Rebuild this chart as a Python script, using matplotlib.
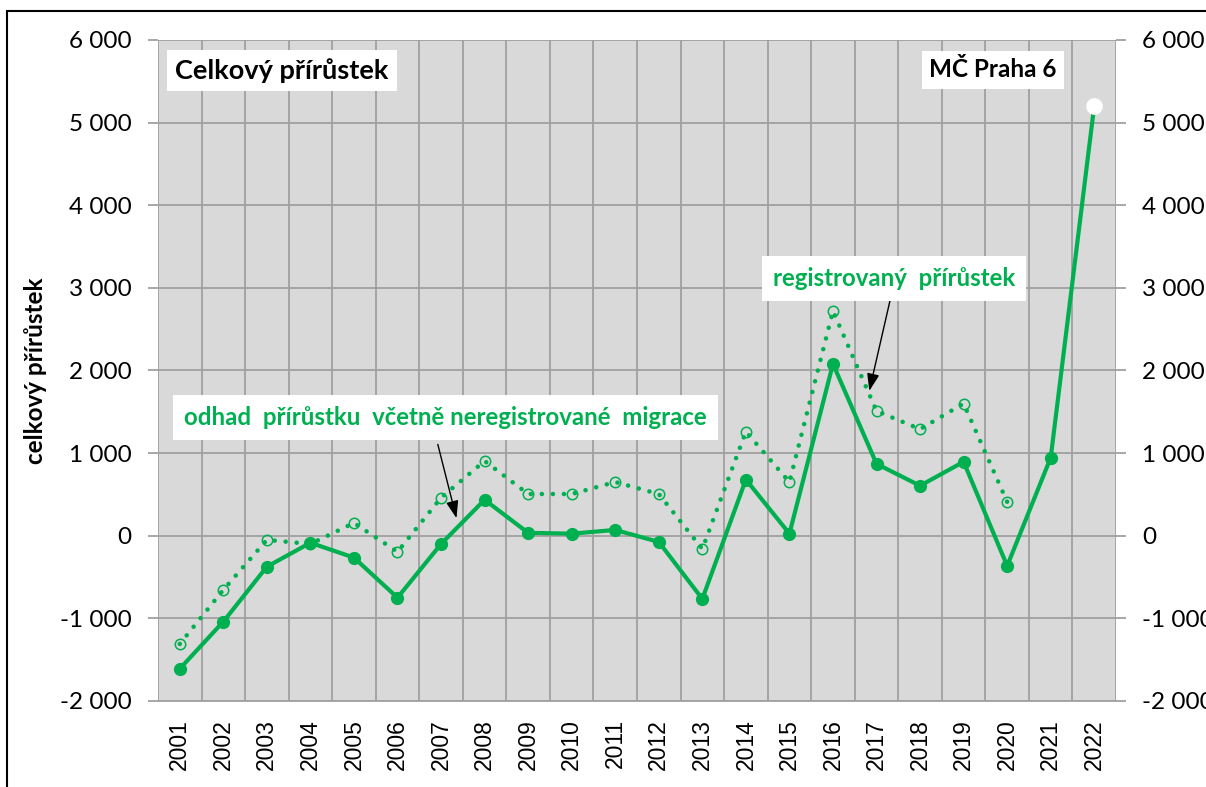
import matplotlib
matplotlib.use("Agg")
import matplotlib.pyplot as plt
from matplotlib.patches import Rectangle
from matplotlib.ticker import FixedLocator, FuncFormatter

# data
years = list(range(2001, 2023))
registered = [-1610, -1040, -375, -85, -265, -750, -100, 435, 35, 25, 70, -75,
              -765, 680, 25, 2080, 870, 605, 895, -365, 945, 5205]
estimated = [-1310, -655, -50, -100, 155, -195, 460, 905, 505, 505, 650, 505,
             -160, 1260, 650, 2720, 1510, 1290, 1600, 410]
y_ticks = [-2000, -1000, 0, 1000, 2000, 3000, 4000, 5000, 6000]

GREEN = "#00b050"
GRID = "#a0a0a0"
BG = "#d9d9d9"
FONT = "Lato"

fig = plt.figure(figsize=(12.06, 7.87), dpi=100)
ax = fig.add_axes([0.131, 0.1093, 0.7944, 0.8399])
ax.set_facecolor(BG)

x = list(range(len(years)))

# dotted estimate line with open circles
ax.plot(x[:len(estimated)], estimated, color=GREEN, lw=3.3,
        linestyle=(0, (0.01, 2.4)), dash_capstyle="round", zorder=3)
ax.plot(x[:len(estimated)], estimated, linestyle="none", marker="o",
        markersize=7.5, markerfacecolor="none", markeredgecolor=GREEN,
        markeredgewidth=1.1, zorder=3)

# solid registered line, last point white
ax.plot(x, registered, color=GREEN, lw=3.0, zorder=4)
ax.plot(x[:-1], registered[:-1], linestyle="none", marker="o", markersize=8.5,
        color=GREEN, zorder=5)
ax.plot(x[-1:], registered[-1:], linestyle="none", marker="o", markersize=11,
        color="white", zorder=5)

ax.set_xlim(-0.5, len(years) - 0.5)
ax.set_ylim(-2000, 6000)

ax.set_xticks(x)
ax.set_xticklabels([str(y) for y in years], rotation=90,
                   fontsize=16.5, family="Liberation Sans")
ax.xaxis.set_minor_locator(FixedLocator([i - 0.5 for i in range(len(years) + 1)]))
ax.tick_params(axis="x", which="major", length=0, pad=13)
ax.tick_params(axis="x", which="minor", length=0)
ax.grid(True, axis="x", which="minor", color=GRID, lw=1.3)

ax.set_yticks(y_ticks)
ax.yaxis.set_major_formatter(FuncFormatter(lambda v, p: f"{int(v):,}".replace(",", " ")))
ax.tick_params(axis="y", which="major", length=7, width=1.3, color=GRID,
               labelsize=17.5, pad=12, right=True, labelright=True)
for lbl in ax.get_yticklabels():
    lbl.set_family(FONT)
ax.grid(True, axis="y", color=GRID, lw=1.3)
ax.set_axisbelow(True)

for side in ["left", "right", "top"]:
    ax.spines[side].set_visible(False)
ax.spines["bottom"].set_color(GRID)
ax.spines["bottom"].set_linewidth(1.3)

ax.set_ylabel("celkový přírůstek", fontsize=17.5, fontweight="bold", family=FONT)
ax.yaxis.set_label_coords(-0.116, 0.5)

box = dict(boxstyle="square,pad=0.3", facecolor="white", edgecolor="none")

ax.text(2.35, 5630, "Celkový přírůstek", fontsize=19.5, fontweight="bold",
        family=FONT, ha="center", va="center", bbox=box, zorder=6)
ax.text(18.67, 5640, "MČ Praha 6", fontsize=17.5, fontweight="bold",
        family=FONT, ha="center", va="center", bbox=box, zorder=6)

ax.annotate("", xy=(6.37, 180), xytext=(5.91, 1138),
            arrowprops=dict(arrowstyle="-|>,head_length=0.7,head_width=0.25",
                            color="black", lw=1.0, mutation_scale=15), zorder=6)
ax.annotate("", xy=(15.82, 1720), xytext=(16.33, 2893),
            arrowprops=dict(arrowstyle="-|>,head_length=0.7,head_width=0.25",
                            color="black", lw=1.0, mutation_scale=15), zorder=6)

ax.text(6.1, 1430, "odhad  přírůstku  včetně neregistrované  migrace",
        fontsize=17.3, fontweight="bold", family=FONT, color=GREEN,
        ha="center", va="center",
        bbox=dict(boxstyle="square,pad=0.45", facecolor="white", edgecolor="none"),
        zorder=7)
ax.text(16.4, 3111, "registrovaný  přírůstek", fontsize=17.3, fontweight="bold",
        family=FONT, color=GREEN, ha="center", va="center",
        bbox=dict(boxstyle="square,pad=0.45", facecolor="white", edgecolor="none"),
        zorder=7)

# outer frame of the chart area
fig.add_artist(Rectangle((7 / 1206, -0.1), 1.2, 1.0 - 11 / 787 + 0.1,
                         transform=fig.transFigure, fill=False,
                         edgecolor="black", lw=1.5))

fig.savefig("out.png", dpi=100)
